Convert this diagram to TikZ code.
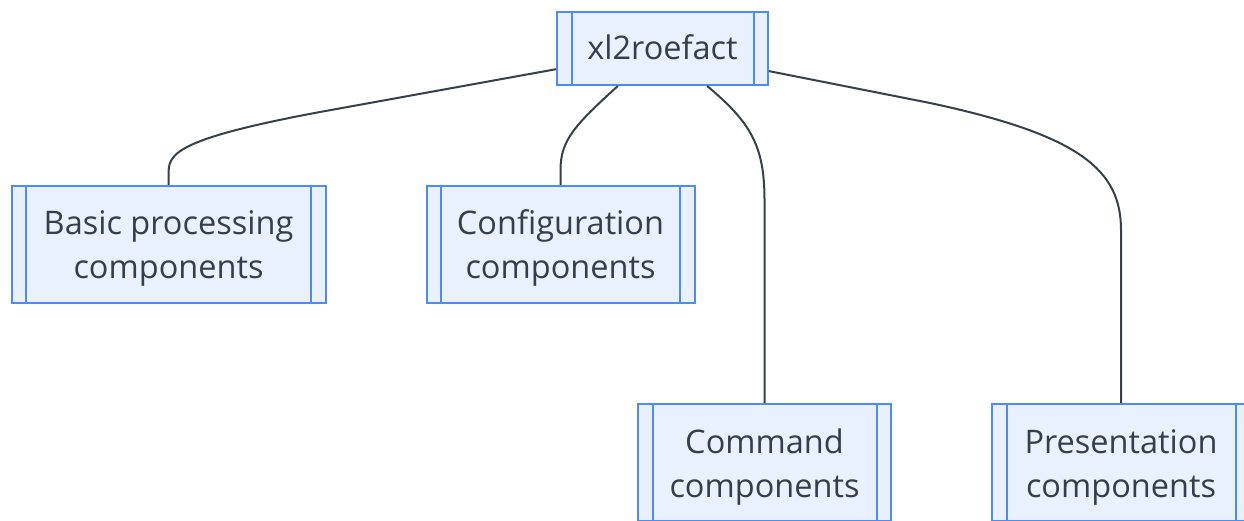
\documentclass[tikz,border=0pt]{standalone}
\usepackage{fontspec}
\setmainfont{Open Sans}
\usepackage{tikz}
\usetikzlibrary{arrows.meta,calc}
\definecolor{boxfill}{HTML}{EAF1FE}
\definecolor{boxline}{HTML}{4F8BF5}
\definecolor{inkgray}{HTML}{333F4C}
\definecolor{linkgray}{HTML}{36404B}
\tikzset{
  subproc/.style={draw=boxline, fill=boxfill, line width=2pt, text=inkgray,
    align=center, font=\fontsize{32.5}{44}\selectfont, minimum height=117pt, inner sep=0pt,
    text height=70pt, text depth=1pt},
  subline/.style={draw=boxline, line width=2pt},
  link/.style={draw=linkgray, line width=2pt}
}

\begin{document}
\begin{tikzpicture}[x=1pt,y=-1pt]
\useasboundingbox (0,0) rectangle (1244,521);
\node[subproc, minimum width=211pt, minimum height=73pt, text height=25pt, text depth=2pt] (top) at (662.5,48.5) {xl2roefact};
\node[subproc, minimum width=314pt] (basic) at (168.5,244.5) {Basic processing\\components};
\node[subproc, minimum width=268pt] (config) at (560.5,244.5) {Configuration\\components};
\node[subproc, minimum width=253pt] (command) at (764.5,462.5) {Command\\components};
\node[subproc, minimum width=258pt] (present) at (1121,462.5) {Presentation\\components};
\foreach \n in {top,basic,config,command,present}
  \draw[subline] ([xshift=15.5pt]\n.north west) -- ([xshift=15.5pt]\n.south west)
    ([xshift=-15.5pt]\n.north east) -- ([xshift=-15.5pt]\n.south east);
% links
\draw[link] (top.191) -- (320,112) .. controls (170,140) and (168.5,155) .. (168.5,175) -- (basic.north);
\draw[link] (top.220.6) .. controls (575,125) and (560.5,140) .. (560.5,170) -- (config.north);
\draw[link] (top.320.6) .. controls (750,122) and (764.5,145) .. (764.5,200) -- (command.north);
\draw[link] (top.348.6) -- (930,103) .. controls (1080,135) and (1121,170) .. (1121,230) -- (present.north);
\end{tikzpicture}
\end{document}
